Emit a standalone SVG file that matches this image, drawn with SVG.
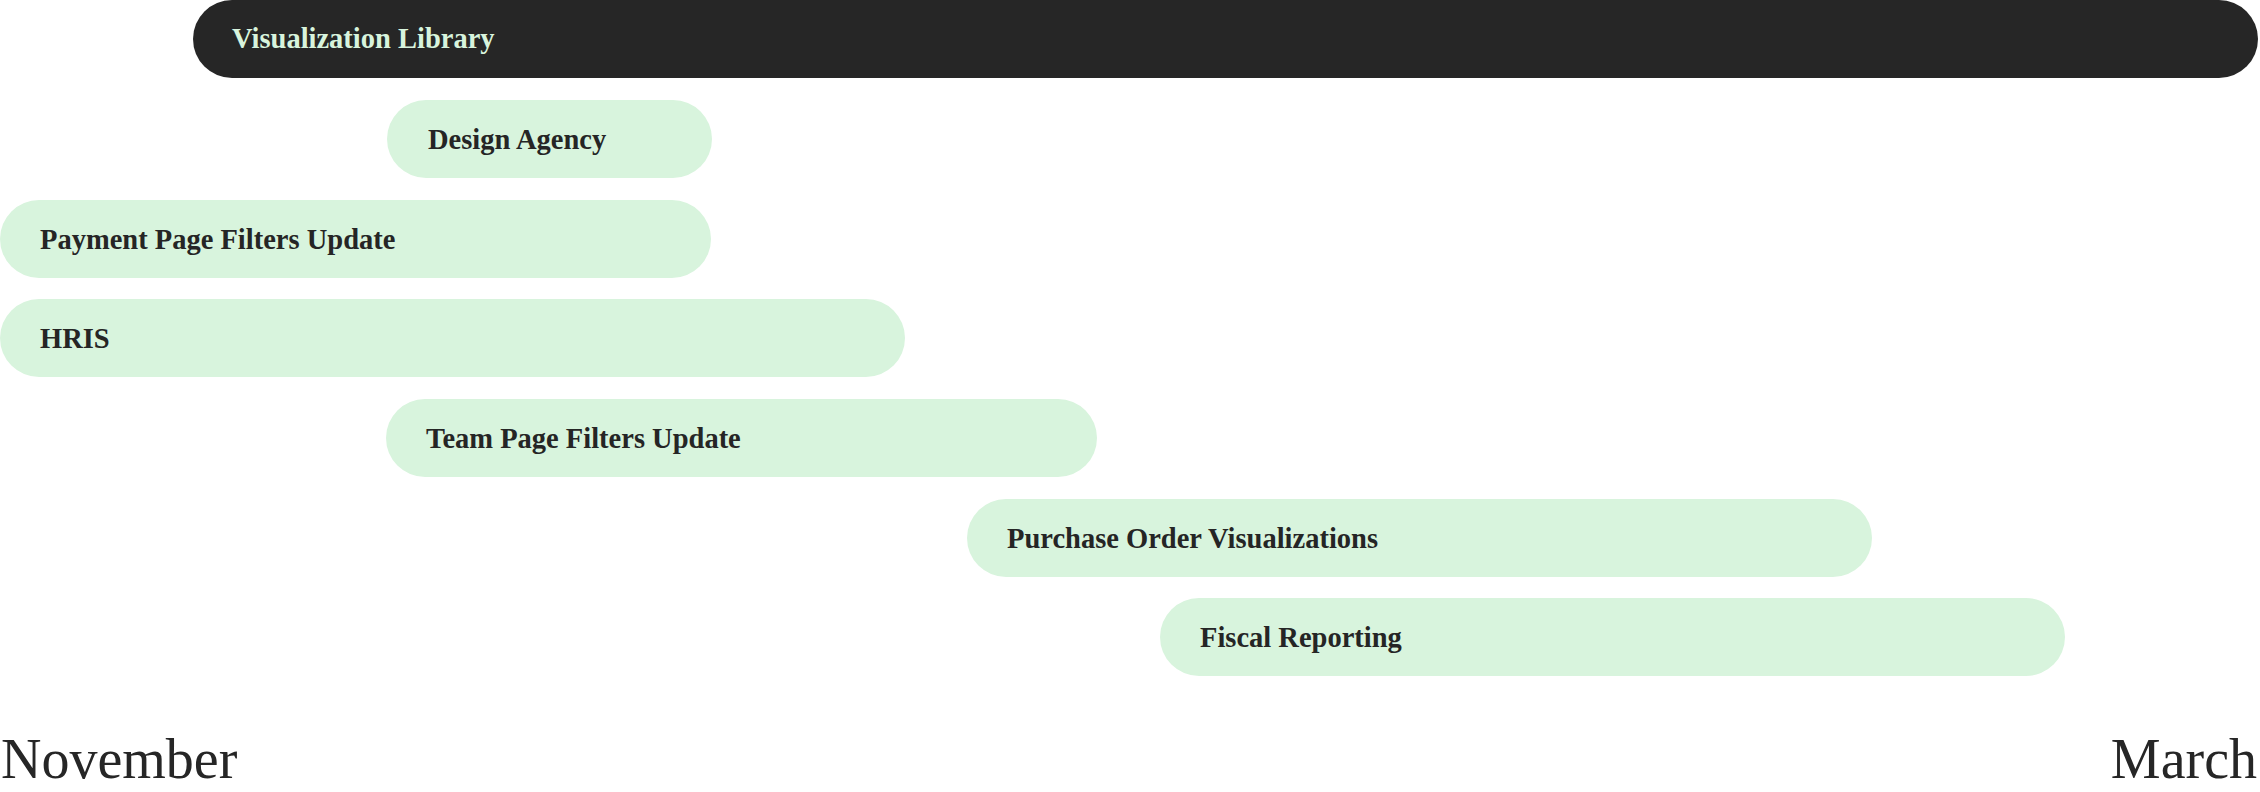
<svg xmlns="http://www.w3.org/2000/svg" width="2260" height="792" viewBox="0 0 2260 792">
<style>
.bar{fill:#d8f4dd}
.dark{fill:#262626}
.lbl{font-family:"Liberation Serif",serif;font-weight:bold;font-size:28.5px;fill:#252525}
.lbl-l{font-family:"Liberation Serif",serif;font-weight:bold;font-size:28.5px;fill:#d8f4dd}
.month{font-family:"Liberation Serif",serif;font-size:56px;fill:#262626}
</style>
<rect width="2260" height="792" fill="#ffffff"/>
<g id="visualization-library">
<rect class="dark" x="193" y="0" width="2065" height="78" rx="39"/>
<text class="lbl-l" x="232" y="48">Visualization Library</text>
</g>
<g id="design-agency">
<rect class="bar" x="387" y="100" width="325" height="78" rx="39"/>
<text class="lbl" x="428" y="149">Design Agency</text>
</g>
<g id="payment-page-filters-update">
<rect class="bar" x="0" y="200" width="711" height="78" rx="39"/>
<text class="lbl" x="40" y="249">Payment Page Filters Update</text>
</g>
<g id="hris">
<rect class="bar" x="0" y="299" width="905" height="78" rx="39"/>
<text class="lbl" x="40" y="348">HRIS</text>
</g>
<g id="team-page-filters-update">
<rect class="bar" x="386" y="399" width="711" height="78" rx="39"/>
<text class="lbl" x="426" y="448">Team Page Filters Update</text>
</g>
<g id="purchase-order-visualizations">
<rect class="bar" x="967" y="499" width="905" height="78" rx="39"/>
<text class="lbl" x="1007" y="548">Purchase Order Visualizations</text>
</g>
<g id="fiscal-reporting">
<rect class="bar" x="1160" y="598" width="905" height="78" rx="39"/>
<text class="lbl" x="1200" y="647">Fiscal Reporting</text>
</g>
<g id="connectors"></g>
<g id="axis">
<text class="month" x="1" y="778">November</text>
<text class="month" x="2257" y="778" text-anchor="end">March</text>
</g>
</svg>
